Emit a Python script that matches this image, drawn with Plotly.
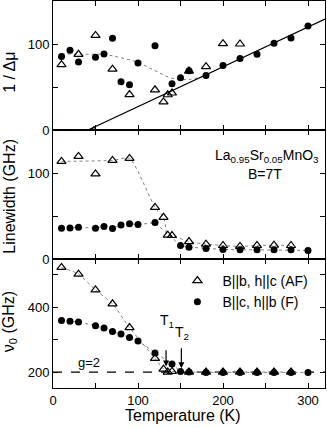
import plotly.graph_objects as go
from plotly.subplots import make_subplots

# ---------------- data ----------------
# Top panel: 1/Δμ
T_f_top = [10, 20, 30, 50, 60, 70, 80, 90, 100, 120, 140, 150, 160, 180, 200, 220, 240, 260, 280, 300]
inv_f = [85.6, 92.6, 79, 84.5, 88.3, 106.7, 56, 52.5, 78, 98, 53.7, 60.7, 69, 63.4, 75, 83, 88, 100.8, 107, 121]
T_af_top = [10, 30, 48, 50, 70, 90, 120, 130, 135, 140, 160, 180, 200, 220]
inv_af = [76, 88, -1, 110, 70.8, 41.2, 46.7, 32.7, 41, 43, 68.5, 73.6, 100.4, 100]
guide_top_T = [10, 40, 60, 80, 100, 120, 140, 160, 180]
guide_top_v = [88.5, 88, 88, 84, 78.5, 69, 60.3, 58.8, 63.4]
fit_T0 = 41.2        # x-intercept of linear fit
fit_slope = 0.4623   # slope of linear fit
fit_T = [fit_T0, 320]

# Middle panel: linewidth (GHz)
T_af = [10, 30, 50, 70, 90, 120, 130, 135, 140, 160, 180, 200, 220, 240, 260, 280]
lw_af = [113.5, 119.3, 98.9, 114.7, 117, 60, 48.5, 27.7, 27.3, 20.3, 17.3, 15.7, 14.6, 15.8, 16, 15.7]
guide_lw_af_T = [10, 70, 90, 120, 130, 135, 140, 160, 180, 200, 220, 240, 260, 280]
guide_lw_af_v = [113.5, 114.7, 117, 60, 48.5, 27.7, 27.3, 20.3, 17.3, 15.7, 14.6, 15.8, 16, 15.7]
T_f = [10, 20, 30, 50, 60, 70, 80, 90, 100, 120, 150, 160, 180, 200, 220, 240, 260, 280, 300]
lw_f = [35.8, 36.1, 36.9, 35.8, 37.7, 35.4, 39.6, 41.1, 40, 42.3, 15.7, 13.8, 12.3, 11.1, 10.8, 10.8, 10.8, 10.8, 10]

# Bottom panel: resonance frequency ν0 (GHz)
nu_af = [522, 501.5, 453, 410, 337, 242, 209, 200, 202, 200, 200, 200, 200, 200, 200, 200]
T_f_nu = [10, 20, 30, 50, 60, 70, 80, 90, 100, 120, 140, 150, 160, 180, 200, 220, 240, 260, 280, 300]
nu_f = [358.8, 356.8, 353.8, 342.5, 335.4, 325, 316.9, 306.5, 296, 259, 224.5, 201.8, 200, 199, 199, 199, 199, 199, 199, 199]
g2_value = 200
T1 = 133
T2 = 151

x_ticks = [0, 50, 100, 150, 200, 250, 300]
x_ticktext = ["0", "", "100", "", "200", "", "300"]

FONT = "Liberation Sans, Arial, Helvetica, sans-serif"
DOT = "#808080"

fig = make_subplots(rows=3, cols=1, shared_xaxes=True, vertical_spacing=0)

# ---- top panel ----
fig.add_trace(go.Scatter(x=guide_top_T, y=guide_top_v, mode="lines",
                         line=dict(color=DOT, width=1, dash="dot", shape="spline"),
                         showlegend=False, hoverinfo="skip"), row=1, col=1)
fig.add_trace(go.Scatter(x=fit_T, y=[fit_slope * (t - fit_T0) for t in fit_T], mode="lines",
                         line=dict(color="black", width=1.2), showlegend=False), row=1, col=1)
fig.add_trace(go.Scatter(x=T_af_top, y=inv_af, mode="markers",
                         marker=dict(symbol="triangle-up-open", size=8, color="black", line=dict(width=1.2)),
                         showlegend=False), row=1, col=1)
fig.add_trace(go.Scatter(x=T_f_top, y=inv_f, mode="markers",
                         marker=dict(symbol="circle", size=7, color="black"),
                         showlegend=False), row=1, col=1)

# ---- middle panel ----
fig.add_trace(go.Scatter(x=guide_lw_af_T, y=guide_lw_af_v, mode="lines",
                         line=dict(color=DOT, width=1, dash="dot", shape="spline", smoothing=0.6),
                         showlegend=False, hoverinfo="skip"), row=2, col=1)
fig.add_trace(go.Scatter(x=T_f, y=lw_f, mode="lines",
                         line=dict(color=DOT, width=1, dash="dot"),
                         showlegend=False, hoverinfo="skip"), row=2, col=1)
fig.add_trace(go.Scatter(x=T_af, y=lw_af, mode="markers",
                         marker=dict(symbol="triangle-up-open", size=8, color="black", line=dict(width=1.2)),
                         showlegend=False), row=2, col=1)
fig.add_trace(go.Scatter(x=T_f, y=lw_f, mode="markers",
                         marker=dict(symbol="circle", size=7, color="black"),
                         showlegend=False), row=2, col=1)

# ---- bottom panel ----
fig.add_trace(go.Scatter(x=[0, 320], y=[g2_value, g2_value], mode="lines",
                         line=dict(color="black", width=1.2, dash="dash"),
                         showlegend=False, hoverinfo="skip"), row=3, col=1)
fig.add_trace(go.Scatter(x=T_af, y=nu_af, mode="lines",
                         line=dict(color=DOT, width=1, dash="dot", shape="spline", smoothing=0.5),
                         showlegend=False, hoverinfo="skip"), row=3, col=1)
fig.add_trace(go.Scatter(x=T_f_nu, y=nu_f, mode="lines",
                         line=dict(color=DOT, width=1, dash="dot"),
                         showlegend=False, hoverinfo="skip"), row=3, col=1)
fig.add_trace(go.Scatter(x=T_af, y=nu_af, mode="markers", name="B||b, h||c (AF)",
                         marker=dict(symbol="triangle-up-open", size=8, color="black", line=dict(width=1.2))),
              row=3, col=1)
fig.add_trace(go.Scatter(x=T_f_nu, y=nu_f, mode="markers", name="B||c, h||b (F)",
                         marker=dict(symbol="circle", size=7, color="black")), row=3, col=1)

axis_common = dict(showline=True, linecolor="black", linewidth=1, mirror="ticks",
                   ticks="inside", ticklen=5, tickcolor="black", tickwidth=1,
                   showgrid=False, zeroline=False, automargin=False,
                   tickfont=dict(family=FONT, size=13, color="black"))

for r in (1, 2, 3):
    fig.update_xaxes(range=[0, 320], tickvals=x_ticks,
                     ticktext=x_ticktext if r == 3 else [""] * len(x_ticks),
                     row=r, col=1, **axis_common)

fig.update_yaxes(range=[0, 150], tickvals=[0, 50, 100], ticktext=["0", "", "100"], row=1, col=1, **axis_common)
fig.update_yaxes(range=[0, 150], tickvals=[0, 50, 100], ticktext=["0", "", "100"], row=2, col=1, **axis_common)
fig.update_yaxes(range=[151, 548], tickvals=[200, 300, 400, 500], ticktext=["200", "", "400", ""],
                 row=3, col=1, **axis_common)

ann = []
tf = dict(family=FONT, color="black")
ann.append(dict(text="1 / Δμ", xref="paper", yref="y", x=-0.16, y=67, textangle=-90,
                showarrow=False, font=dict(size=16, **tf), xanchor="center", yanchor="middle"))
ann.append(dict(text="Linewidth (GHz)", xref="paper", yref="y2", x=-0.16, y=73, textangle=-90,
                showarrow=False, font=dict(size=16, **tf), xanchor="center", yanchor="middle"))
ann.append(dict(text="ν<sub>0</sub> (GHz)", xref="paper", yref="y3", x=-0.16, y=355, textangle=-90,
                showarrow=False, font=dict(size=16, **tf), xanchor="center", yanchor="middle"))
ann.append(dict(text="Temperature (K)", xref="x3", yref="paper", x=153, y=-0.072,
                showarrow=False, font=dict(size=16, **tf), xanchor="center", yanchor="middle"))
ann.append(dict(text="La<sub>0.95</sub>Sr<sub>0.05</sub>MnO<sub>3</sub>", xref="x2", yref="y2",
                x=252, y=120, showarrow=False, font=dict(size=14, **tf), xanchor="center", yanchor="middle"))
ann.append(dict(text="B=7T", xref="x2", yref="y2", x=249, y=99, showarrow=False,
                font=dict(size=14, **tf), xanchor="center", yanchor="middle"))
ann.append(dict(text="g=2", xref="x3", yref="y3", x=42.5, y=230, showarrow=False,
                font=dict(size=13, **tf), xanchor="center", yanchor="middle"))
ann.append(dict(text="T<sub>1</sub>", xref="x3", yref="y3", x=T1 + 1, y=357, showarrow=False,
                font=dict(size=14, **tf), xanchor="center", yanchor="middle"))
ann.append(dict(text="T<sub>2</sub>", xref="x3", yref="y3", x=T2 + 1, y=321, showarrow=False,
                font=dict(size=14, **tf), xanchor="center", yanchor="middle"))
ann.append(dict(text="", xref="x3", yref="y3", x=T1, y=217, ax=T1, ay=272, axref="x3", ayref="y3",
                showarrow=True, arrowhead=2, arrowsize=1, arrowwidth=1.2, arrowcolor="black"))
ann.append(dict(text="", xref="x3", yref="y3", x=T2, y=212, ax=T2, ay=278, axref="x3", ayref="y3",
                showarrow=True, arrowhead=2, arrowsize=1, arrowwidth=1.2, arrowcolor="black"))

fig.update_layout(
    width=327, height=428,
    margin=dict(l=53, r=2, t=1, b=40, autoexpand=False),
    paper_bgcolor="white", plot_bgcolor="white",
    font=dict(family=FONT, color="black", size=13),
    annotations=ann,
    showlegend=True,
    legend=dict(x=0.439, y=0.318, xanchor="left", yanchor="top", bgcolor="rgba(0,0,0,0)",
                font=dict(family=FONT, size=14, color="black"), tracegroupgap=0,
                itemwidth=40),
)

fig.write_html("out.html", config={"displayModeBar": False},
               post_script="document.body.style.margin='0px';document.body.style.overflow='hidden';")
